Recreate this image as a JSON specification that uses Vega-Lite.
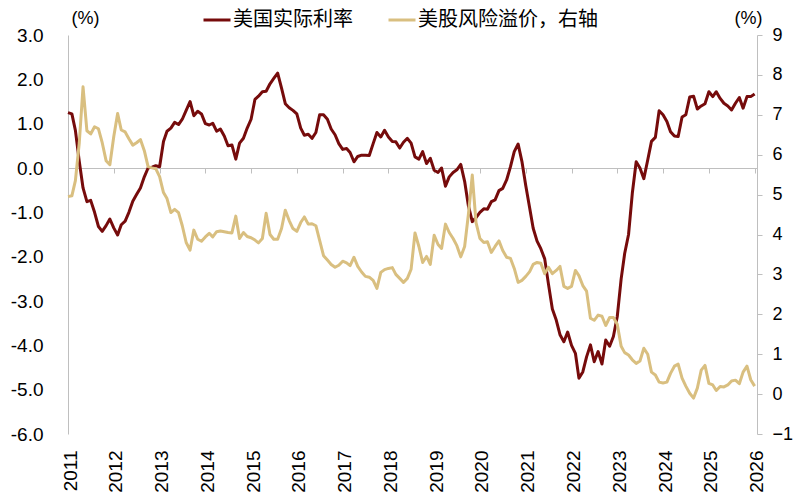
{
"$schema":"https://vega.github.io/schema/vega-lite/v6.json",
"width":689,"height":399,
"autosize":{"type":"none"},
"padding":{"left":68,"top":35,"right":36,"bottom":63},
"background":"white",
"config":{"view":{"stroke":null},"font":"Liberation Sans"},
"data":{"values":[
{"date":"2011-01-01","rate":1.25,"erp":4.95},{"date":"2011-02-01","rate":1.22,"erp":4.97},{"date":"2011-03-01","rate":0.85,"erp":5.35},{"date":"2011-04-01","rate":0.15,"erp":6.3},{"date":"2011-05-01","rate":-0.45,"erp":7.7},{"date":"2011-06-01","rate":-0.76,"erp":6.6},{"date":"2011-07-01","rate":-0.73,"erp":6.52},{"date":"2011-08-01","rate":-1.0,"erp":6.7},{"date":"2011-09-01","rate":-1.32,"erp":6.65},{"date":"2011-10-01","rate":-1.43,"erp":6.3},{"date":"2011-11-01","rate":-1.3,"erp":5.85},{"date":"2011-12-01","rate":-1.15,"erp":5.75},
{"date":"2012-01-01","rate":-1.35,"erp":6.45},{"date":"2012-02-01","rate":-1.51,"erp":7.03},{"date":"2012-03-01","rate":-1.28,"erp":6.62},{"date":"2012-04-01","rate":-1.2,"erp":6.57},{"date":"2012-05-01","rate":-1.0,"erp":6.4},{"date":"2012-06-01","rate":-0.75,"erp":6.24},{"date":"2012-07-01","rate":-0.6,"erp":6.3},{"date":"2012-08-01","rate":-0.45,"erp":6.38},{"date":"2012-09-01","rate":-0.2,"erp":6.1},{"date":"2012-10-01","rate":0.0,"erp":5.7},{"date":"2012-11-01","rate":0.02,"erp":5.67},{"date":"2012-12-01","rate":0.05,"erp":5.65},
{"date":"2013-01-01","rate":0.03,"erp":5.45},{"date":"2013-02-01","rate":0.6,"erp":5.05},{"date":"2013-03-01","rate":0.83,"erp":4.9},{"date":"2013-04-01","rate":0.9,"erp":4.55},{"date":"2013-05-01","rate":1.03,"erp":4.63},{"date":"2013-06-01","rate":0.98,"erp":4.55},{"date":"2013-07-01","rate":1.1,"erp":4.22},{"date":"2013-08-01","rate":1.3,"erp":3.8},{"date":"2013-09-01","rate":1.5,"erp":3.61},{"date":"2013-10-01","rate":1.18,"erp":4.11},{"date":"2013-11-01","rate":1.28,"erp":3.88},{"date":"2013-12-01","rate":1.22,"erp":3.83},
{"date":"2014-01-01","rate":1.0,"erp":3.94},{"date":"2014-02-01","rate":0.97,"erp":4.03},{"date":"2014-03-01","rate":1.01,"erp":3.94},{"date":"2014-04-01","rate":0.83,"erp":4.07},{"date":"2014-05-01","rate":0.88,"erp":4.09},{"date":"2014-06-01","rate":0.72,"erp":4.07},{"date":"2014-07-01","rate":0.5,"erp":4.05},{"date":"2014-08-01","rate":0.52,"erp":4.04},{"date":"2014-09-01","rate":0.2,"erp":4.46},{"date":"2014-10-01","rate":0.56,"erp":3.9},{"date":"2014-11-01","rate":0.67,"erp":4.05},{"date":"2014-12-01","rate":0.9,"erp":3.95},
{"date":"2015-01-01","rate":1.1,"erp":3.92},{"date":"2015-02-01","rate":1.55,"erp":3.86},{"date":"2015-03-01","rate":1.62,"erp":3.79},{"date":"2015-04-01","rate":1.72,"erp":3.9},{"date":"2015-05-01","rate":1.73,"erp":4.53},{"date":"2015-06-01","rate":1.9,"erp":4.0},{"date":"2015-07-01","rate":2.02,"erp":3.88},{"date":"2015-08-01","rate":2.14,"erp":3.88},{"date":"2015-09-01","rate":1.8,"erp":4.15},{"date":"2015-10-01","rate":1.45,"erp":4.61},{"date":"2015-11-01","rate":1.36,"erp":4.35},{"date":"2015-12-01","rate":1.3,"erp":4.15},
{"date":"2016-01-01","rate":1.22,"erp":4.08},{"date":"2016-02-01","rate":0.9,"erp":4.3},{"date":"2016-03-01","rate":0.74,"erp":4.44},{"date":"2016-04-01","rate":0.76,"erp":4.26},{"date":"2016-05-01","rate":0.67,"erp":4.27},{"date":"2016-06-01","rate":0.8,"erp":4.22},{"date":"2016-07-01","rate":1.2,"erp":3.85},{"date":"2016-08-01","rate":1.2,"erp":3.47},{"date":"2016-09-01","rate":1.1,"erp":3.36},{"date":"2016-10-01","rate":0.88,"erp":3.25},{"date":"2016-11-01","rate":0.75,"erp":3.18},{"date":"2016-12-01","rate":0.55,"erp":3.23},
{"date":"2017-01-01","rate":0.42,"erp":3.33},{"date":"2017-02-01","rate":0.44,"erp":3.29},{"date":"2017-03-01","rate":0.35,"erp":3.22},{"date":"2017-04-01","rate":0.14,"erp":3.43},{"date":"2017-05-01","rate":0.26,"erp":3.2},{"date":"2017-06-01","rate":0.29,"erp":3.06},{"date":"2017-07-01","rate":0.29,"erp":2.95},{"date":"2017-08-01","rate":0.28,"erp":2.93},{"date":"2017-09-01","rate":0.55,"erp":2.85},{"date":"2017-10-01","rate":0.8,"erp":2.65},{"date":"2017-11-01","rate":0.7,"erp":3.05},{"date":"2017-12-01","rate":0.85,"erp":3.12},
{"date":"2018-01-01","rate":0.7,"erp":3.15},{"date":"2018-02-01","rate":0.6,"erp":3.17},{"date":"2018-03-01","rate":0.59,"erp":3.0},{"date":"2018-04-01","rate":0.45,"erp":2.9},{"date":"2018-05-01","rate":0.58,"erp":2.8},{"date":"2018-06-01","rate":0.67,"erp":2.9},{"date":"2018-07-01","rate":0.56,"erp":3.13},{"date":"2018-08-01","rate":0.25,"erp":4.04},{"date":"2018-09-01","rate":0.2,"erp":3.7},{"date":"2018-10-01","rate":0.37,"erp":3.3},{"date":"2018-11-01","rate":0.1,"erp":3.45},{"date":"2018-12-01","rate":0.22,"erp":3.25},
{"date":"2019-01-01","rate":-0.05,"erp":3.98},{"date":"2019-02-01","rate":-0.1,"erp":3.75},{"date":"2019-03-01","rate":0.0,"erp":3.65},{"date":"2019-04-01","rate":-0.41,"erp":4.26},{"date":"2019-05-01","rate":-0.2,"erp":4.05},{"date":"2019-06-01","rate":-0.1,"erp":3.9},{"date":"2019-07-01","rate":-0.04,"erp":3.72},{"date":"2019-08-01","rate":0.08,"erp":3.44},{"date":"2019-09-01","rate":-0.3,"erp":3.7},{"date":"2019-10-01","rate":-0.85,"erp":4.5},{"date":"2019-11-01","rate":-1.21,"erp":5.49},{"date":"2019-12-01","rate":-1.12,"erp":4.3},
{"date":"2020-01-01","rate":-1.0,"erp":3.9},{"date":"2020-02-01","rate":-0.92,"erp":3.8},{"date":"2020-03-01","rate":-0.93,"erp":3.82},{"date":"2020-04-01","rate":-0.76,"erp":3.55},{"date":"2020-05-01","rate":-0.72,"erp":3.7},{"date":"2020-06-01","rate":-0.51,"erp":3.84},{"date":"2020-07-01","rate":-0.46,"erp":3.6},{"date":"2020-08-01","rate":-0.27,"erp":3.43},{"date":"2020-09-01","rate":0.03,"erp":3.4},{"date":"2020-10-01","rate":0.37,"erp":3.15},{"date":"2020-11-01","rate":0.54,"erp":2.8},{"date":"2020-12-01","rate":0.15,"erp":2.85},
{"date":"2021-01-01","rate":-0.4,"erp":2.95},{"date":"2021-02-01","rate":-0.9,"erp":3.07},{"date":"2021-03-01","rate":-1.36,"erp":3.25},{"date":"2021-04-01","rate":-1.65,"erp":3.3},{"date":"2021-05-01","rate":-1.82,"erp":3.28},{"date":"2021-06-01","rate":-2.05,"erp":3.02},{"date":"2021-07-01","rate":-2.62,"erp":3.18},{"date":"2021-08-01","rate":-3.18,"erp":3.02},{"date":"2021-09-01","rate":-3.43,"erp":3.1},{"date":"2021-10-01","rate":-3.76,"erp":3.2},{"date":"2021-11-01","rate":-3.92,"erp":2.7},{"date":"2021-12-01","rate":-3.7,"erp":2.65},
{"date":"2022-01-01","rate":-4.0,"erp":2.7},{"date":"2022-02-01","rate":-4.18,"erp":3.1},{"date":"2022-03-01","rate":-4.74,"erp":2.97},{"date":"2022-04-01","rate":-4.6,"erp":2.72},{"date":"2022-05-01","rate":-4.26,"erp":2.58},{"date":"2022-06-01","rate":-3.99,"erp":1.9},{"date":"2022-07-01","rate":-4.37,"erp":1.85},{"date":"2022-08-01","rate":-4.14,"erp":1.98},{"date":"2022-09-01","rate":-4.42,"erp":1.95},{"date":"2022-10-01","rate":-3.88,"erp":1.72},{"date":"2022-11-01","rate":-4.02,"erp":1.92},{"date":"2022-12-01","rate":-3.8,"erp":1.92},
{"date":"2023-01-01","rate":-3.35,"erp":1.75},{"date":"2023-02-01","rate":-2.5,"erp":1.2},{"date":"2023-03-01","rate":-1.93,"erp":1.04},{"date":"2023-04-01","rate":-1.5,"erp":0.98},{"date":"2023-05-01","rate":-0.57,"erp":0.86},{"date":"2023-06-01","rate":0.14,"erp":0.77},{"date":"2023-07-01","rate":0.0,"erp":0.83},{"date":"2023-08-01","rate":-0.24,"erp":1.15},{"date":"2023-09-01","rate":0.18,"erp":1.0},{"date":"2023-10-01","rate":0.6,"erp":0.55},{"date":"2023-11-01","rate":0.69,"erp":0.48},{"date":"2023-12-01","rate":1.29,"erp":0.3},
{"date":"2024-01-01","rate":1.2,"erp":0.28},{"date":"2024-02-01","rate":1.05,"erp":0.3},{"date":"2024-03-01","rate":0.82,"erp":0.52},{"date":"2024-04-01","rate":0.72,"erp":0.7},{"date":"2024-05-01","rate":0.71,"erp":0.75},{"date":"2024-06-01","rate":1.15,"erp":0.4},{"date":"2024-07-01","rate":1.2,"erp":0.2},{"date":"2024-08-01","rate":1.6,"erp":0.02},{"date":"2024-09-01","rate":1.62,"erp":-0.1},{"date":"2024-10-01","rate":1.33,"erp":0.15},{"date":"2024-11-01","rate":1.4,"erp":0.6},{"date":"2024-12-01","rate":1.45,"erp":0.72},
{"date":"2025-01-01","rate":1.72,"erp":0.27},{"date":"2025-02-01","rate":1.61,"erp":0.23},{"date":"2025-03-01","rate":1.72,"erp":0.09},{"date":"2025-04-01","rate":1.57,"erp":0.19},{"date":"2025-05-01","rate":1.46,"erp":0.18},{"date":"2025-06-01","rate":1.4,"erp":0.23},{"date":"2025-07-01","rate":1.31,"erp":0.33},{"date":"2025-08-01","rate":1.46,"erp":0.35},{"date":"2025-09-01","rate":1.59,"erp":0.26},{"date":"2025-10-01","rate":1.35,"erp":0.55},{"date":"2025-11-01","rate":1.61,"erp":0.7},{"date":"2025-12-01","rate":1.61,"erp":0.36},
{"date":"2026-01-01","rate":1.67,"erp":0.2}
]},
"layer":[
{"mark":{"type":"line","strokeWidth":3,"strokeJoin":"round"},
 "encoding":{
  "x":{"field":"date","type":"temporal",
   "scale":{"type":"utc","domain":[{"year":2011,"month":1,"date":1,"utc":true},{"year":2026,"month":1,"date":20,"utc":true}]},
   "axis":{"orient":"bottom","title":null,"format":"%Y","tickCount":{"interval":"year","step":1},"domain":false,"ticks":false,"tickSize":0,"grid":false,"labelAngle":-90,"labelPadding":16,"labelOffset":2,"labelFontSize":19,"labelColor":"#000000","labelFont":"Liberation Sans","labelFlush":false,"labelOverlap":false}},
  "y":{"field":"rate","type":"quantitative",
   "scale":{"domain":[-6,3],"nice":false,"zero":false},
   "axis":{"orient":"left","values":[-6,-5,-4,-3,-2,-1,0,1,2,3],"labelExpr":"datum.value < 0 ? '-' + format(-datum.value, '.1f') : format(datum.value, '.1f')","grid":false,"domain":true,"domainColor":"#BFBFBF","ticks":false,"tickSize":0,"labelPadding":25,"labelFontSize":19,"labelColor":"#000000","labelFont":"Liberation Sans","title":"(%)","titleAngle":0,"titleX":17,"titleY":-17,"titleAlign":"center","titleBaseline":"middle","titleFontSize":18,"titleFontWeight":"normal","titleFont":"Liberation Sans","titleColor":"#000000"}},
  "color":{"datum":"rate","scale":{"domain":["rate","erp"],"range":["#760B0B","#D9BF80"]},
   "legend":{"orient":"none","legendX":134,"legendY":-30,"direction":"horizontal","title":null,"symbolType":"stroke","symbolStrokeWidth":3,"symbolSize":729,"labelFont":"Noto Sans CJK SC","labelFontSize":20,"labelColor":"#000000","labelLimit":400,"columnPadding":29,"labelOffset":1,"labelExpr":"datum.label == 'rate' ? '美国实际利率' : '美股风险溢价，右轴'"}}
 }},
{"mark":{"type":"line","strokeWidth":3,"strokeJoin":"round"},
 "encoding":{
  "x":{"field":"date","type":"temporal",
   "scale":{"type":"utc","domain":[{"year":2011,"month":1,"date":1,"utc":true},{"year":2026,"month":1,"date":20,"utc":true}]},
   "axis":{"orient":"bottom","offset":-266,"title":null,"tickCount":{"interval":"year","step":1},"labels":false,"domain":true,"domainColor":"#BFBFBF","ticks":true,"tickColor":"#BFBFBF","tickSize":5,"grid":false}},
  "y":{"field":"erp","type":"quantitative",
   "scale":{"domain":[-1,9],"nice":false,"zero":false},
   "axis":{"orient":"right","values":[-1,0,1,2,3,4,5,6,7,8,9],"format":"d","grid":false,"domain":true,"domainColor":"#BFBFBF","ticks":true,"tickColor":"#BFBFBF","tickSize":5,"labelPadding":10,"labelFontSize":18,"labelColor":"#000000","labelFont":"Liberation Sans","title":"(%)","titleAngle":0,"titleX":-9,"titleY":-17,"titleAlign":"center","titleBaseline":"middle","titleFontSize":18,"titleFontWeight":"normal","titleFont":"Liberation Sans","titleColor":"#000000"}},
  "color":{"datum":"erp"}
 }}
],
"resolve":{"scale":{"y":"independent"},"axis":{"x":"independent"}}
}
